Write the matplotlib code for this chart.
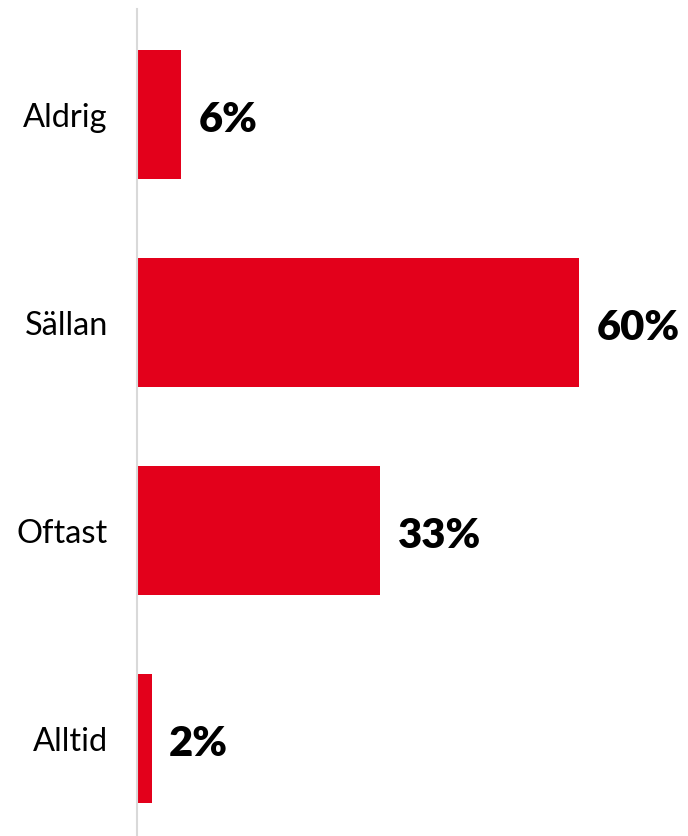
import matplotlib
matplotlib.use("Agg")
import matplotlib.pyplot as plt

# data
categories = ['Aldrig', 'Sällan', 'Oftast', 'Alltid']
values = [6, 60, 33, 2]
value_labels = ['6%', '60%', '33%', '2%']

red = '#E3001B'

fig = plt.figure(figsize=(6.88, 8.37), dpi=100)
ax = fig.add_axes([137 / 688, 0, 1 - 137 / 688, 1 - 10 / 837])

ypos = list(range(len(categories)))
bars = ax.barh(ypos, values, height=0.62, color=red, zorder=2)

ax.set_xlim(0, 551 / 7.367)
ax.set_ylim(3.471, -0.505)

# value labels (baseline sits ~17px under the bar centre)
for b, lab in zip(bars, value_labels):
    ax.annotate(lab, xy=(b.get_width(), b.get_y() + b.get_height() / 2),
                xytext=(12.5, -12.2), textcoords='offset points',
                ha='left', va='baseline', fontsize=30, fontweight='heavy',
                family='Lato', color='black', annotation_clip=False)

ax.set_yticks(ypos)
ax.set_yticklabels(categories, family='Lato', fontsize=23.5)
ax.tick_params(axis='y', length=0, pad=21)
ax.set_xticks([])

for s in ['top', 'right', 'bottom']:
    ax.spines[s].set_visible(False)
ax.spines['left'].set_color('#d9d9d9')
ax.spines['left'].set_linewidth(1.5)

fig.savefig('out.png', dpi=100)
